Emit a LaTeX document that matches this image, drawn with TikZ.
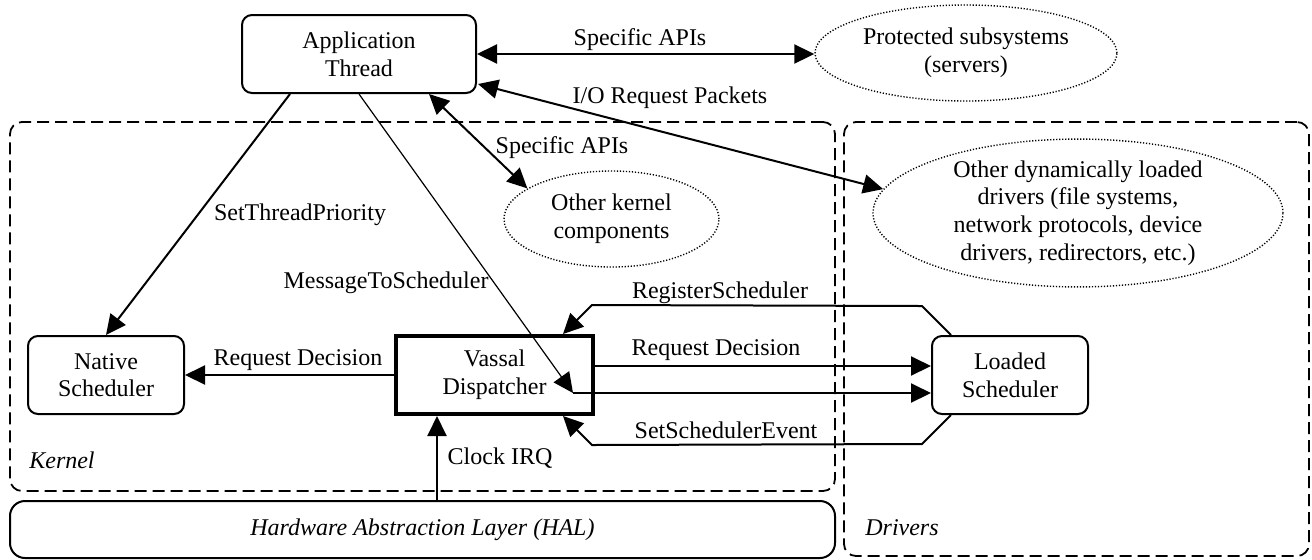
\documentclass[tikz,border=0pt]{standalone}
\usepackage{fontspec}
\setmainfont{Liberation Serif}
\usetikzlibrary{arrows.meta,calc,shapes.geometric}
\begin{document}
\begin{tikzpicture}[x=0.5pt,y=-0.5pt,
  every node/.style={font=\fontsize{12}{13.8}\selectfont, align=center, inner sep=0pt},
  rbox/.style={draw, line width=1pt, rounded corners=5pt, minimum width=78pt, minimum height=39pt},
  vbox/.style={draw, line width=2pt, minimum width=98.5pt, minimum height=39pt},
  dashbox/.style={draw, line width=0.9pt, rounded corners=6pt, dash pattern=on 6pt off 3pt},
  dotell/.style={draw, ellipse, line width=0.7pt, dash pattern=on 0.6pt off 0.9pt},
  arr/.style={line width=1pt, -{Triangle[length=10pt,width=9.5pt]}},
  darr/.style={line width=1pt, {Triangle[length=10pt,width=9.5pt]}-{Triangle[length=10pt,width=9.5pt]}},
  lbl/.style={}]
\useasboundingbox (0,0) rectangle (1312,559);

% containers
\node[dashbox, minimum width=412.5pt, minimum height=184.5pt] (kernelbox) at (422.5,306.5) {};
\node[dashbox, minimum width=232.5pt, minimum height=217pt] (driversbox) at (1076.5,339) {};
\node[draw, line width=1pt, rounded corners=7.5pt, minimum width=412.5pt, minimum height=28.5pt] (hal) at (422.5,529.5) {\itshape Hardware Abstraction Layer (HAL)};
\node (lkern) at (62,460) {\itshape Kernel};
\node (ldrv) at (902,528) {\itshape Drivers};

% main nodes
\node[rbox, minimum width=117pt] (app) at (359,54) {Application\\Thread};
\node[dotell, minimum width=151pt, minimum height=48pt] (prot) at (966,53) {Protected subsystems\\(servers)};
\node[dotell, minimum width=107.5pt, minimum height=48pt] (kern) at (611.5,219) {Other kernel\\components};
\node[dotell, minimum width=205pt, minimum height=71pt] (dyn) at (1078,213) {\fontsize{12}{13}\selectfont Other dynamically loaded\\drivers (file systems,\\network protocols, device\\drivers, redirectors, etc.)};
\node[rbox] (native) at (106,375) {Native\\Scheduler};
\node[vbox] (vassal) at (494.5,375) {Vassal\\Dispatcher};
\node[rbox] (loaded) at (1010,375) {Loaded\\Scheduler};

% connectors
\draw[darr] (app.east) -- (app.east -| prot.west);
\draw[darr] ($(app.east)+(1,30)$) -- (dyn.173.6);
\draw[darr] ($(app.south)+(70,0)$) -- (kern.160.7);
\draw[arr] ($(app.south)+(-69,0)$) -- (native.north);
\coordinate (msg) at ($(vassal.center)+(78.5,18)$);
\draw[arr, line width=0.6pt] (app.south) -- (msg);
\draw[arr] (msg) -- (msg -| loaded.west);
\coordinate (rd) at ($(vassal.east)+(0,-9)$);
\draw[arr] (rd) -- (rd -| loaded.west);
\draw[arr] (vassal.west) -- (native.east);
\draw[arr] ($(loaded.north west)+(20,0)$) -- ++(-29,-29) -- ($(vassal.north)+(97.5,-29)$) -- ($(vassal.north)+(68.5,0)$);
\draw[arr] ($(loaded.south west)+(20,0)$) -- ++(-29,29) -- ($(vassal.south)+(97.5,29)$) -- ($(vassal.south)+(68.5,0)$);
\coordinate (clk) at ($(vassal.south)+(-57.5,0)$);
\draw[arr] (clk |- hal.north) -- (clk);

% labels
\node[lbl] (l1) at (640,40) {Specific APIs};
\node[lbl] (l2) at (670,98) {I/O Request Packets};
\node[lbl] (l3) at (562,148) {Specific APIs};
\node[lbl] (l4) at (300,215) {SetThreadPriority};
\node[lbl] (l5) at (386,283) {MessageToScheduler};
\node[lbl] (l6) at (298,360) {Request Decision};
\node[lbl] (l7) at (720,293) {RegisterScheduler};
\node[lbl] (l8) at (716,350) {Request Decision};
\node[lbl] (l9) at (726,430) {SetSchedulerEvent};
\node[lbl] (l10) at (500,458) {Clock IRQ};
\end{tikzpicture}
\end{document}
